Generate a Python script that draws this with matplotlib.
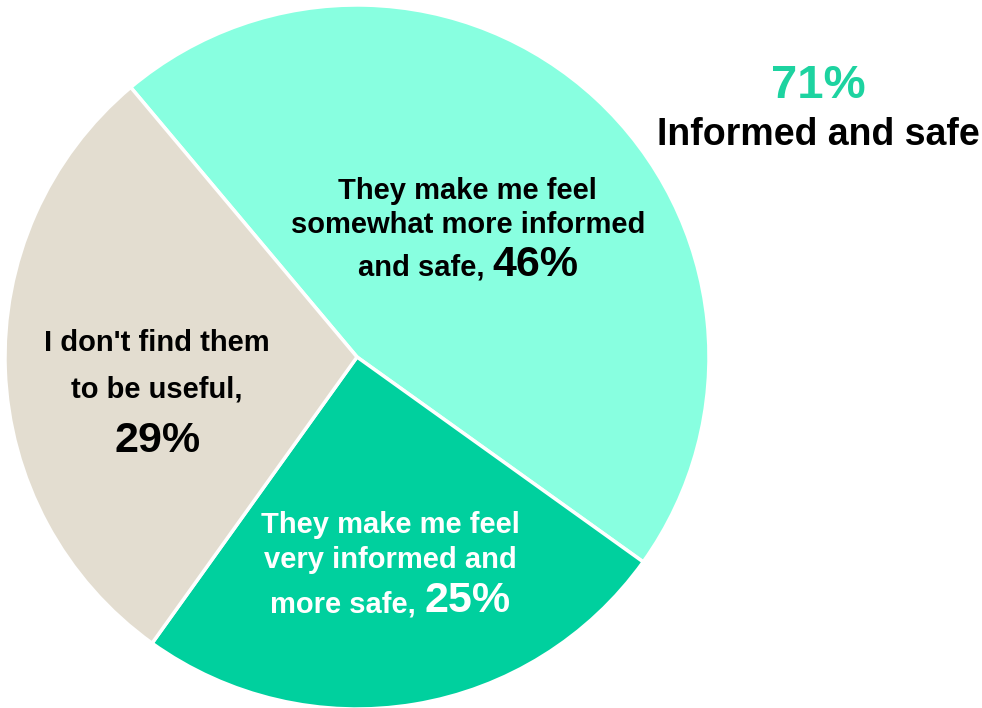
import matplotlib.pyplot as plt
from matplotlib.offsetbox import TextArea, HPacker, VPacker, AnnotationBbox

# Survey split, clockwise from the upper-left edge
labels = ["They make me feel\nsomewhat more informed\nand safe",
          "They make me feel\nvery informed and\nmore safe",
          "I don't find them\nto be useful"]
values = [46, 25, 29]
colors = ["#88FFE0", "#00D09E", "#E3DDD0"]
text_colors = ["black", "white", "black"]
# label centres in data units (pie radius = 1) and line gaps in points
label_xy = [(0.315, 0.358), (0.095, -0.594), (-0.568, -0.108)]
line_gap = [4, 5, 13]

plt.rcParams['font.family'] = ['Liberation Sans', 'DejaVu Sans']

fig = plt.figure(figsize=(9.82, 7.08), dpi=100)
# pie centre at (357, 357) px, radius 352 px
ax = fig.add_axes([5 / 982, -1 / 708, 704 / 982, 704 / 708])
ax.pie(values, colors=colors, startangle=130, counterclock=False,
       wedgeprops=dict(edgecolor="white", linewidth=2.5))
ax.set_xlim(-1, 1)
ax.set_ylim(-1, 1)
ax.set_aspect('equal')
ax.axis('off')


def slice_label(text, value, color, xy, gap, small=21, big=31, pct_own_line=False):
    lines = text.split("\n")
    small_kw = dict(fontsize=small, fontweight='bold', color=color)
    big_kw = dict(fontsize=big, fontweight='bold', color=color)
    rows = [TextArea(l, textprops=small_kw) for l in lines[:-1]]
    if pct_own_line:
        rows.append(TextArea(lines[-1] + ",", textprops=small_kw))
        rows.append(TextArea(f"{value}%", textprops=big_kw))
    else:
        rows.append(HPacker(children=[TextArea(lines[-1] + ", ", textprops=small_kw),
                                      TextArea(f"{value}%", textprops=big_kw)],
                            align="baseline", pad=0, sep=0))
    box = VPacker(children=rows, align="center", pad=0, sep=gap)
    ab = AnnotationBbox(box, xy, xycoords='data', frameon=False,
                        box_alignment=(0.5, 0.5))
    ax.add_artist(ab)


for i in range(len(values)):
    slice_label(labels[i], values[i], text_colors[i], label_xy[i], line_gap[i],
                pct_own_line=(i == 2))

# combined share of the two "informed" answers
informed = values[0] + values[1]
fig.text(818 / 982, 1 - 86 / 708, f"{informed}%", ha='center', va='center',
         fontsize=34, fontweight='bold', color="#1DD3A0")
fig.text(818 / 982, 1 - 135 / 708, "Informed and safe", ha='center', va='center',
         fontsize=27, fontweight='bold', color="black")

fig.savefig("out.png", dpi=100)
